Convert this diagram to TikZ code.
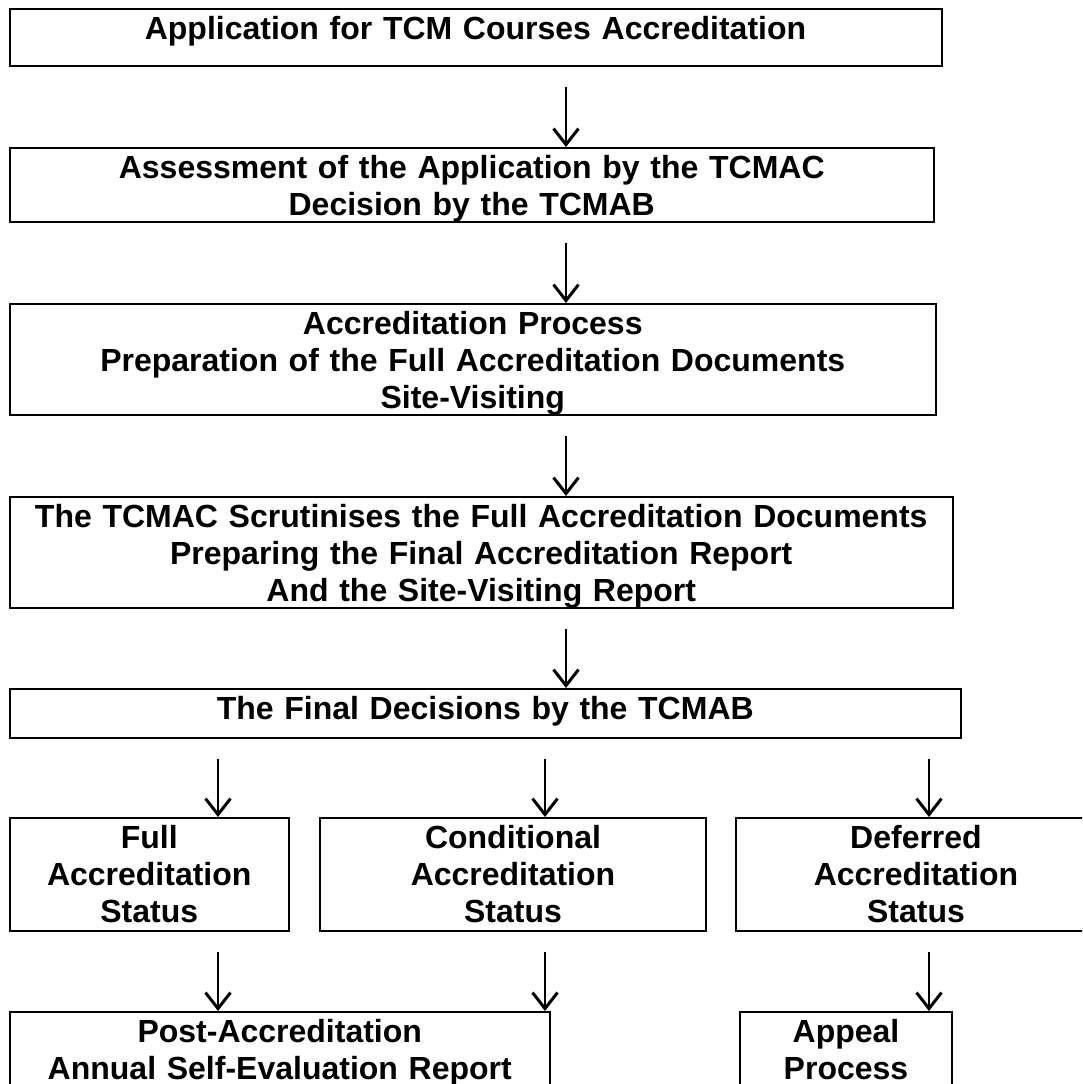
\documentclass[tikz,border=0pt]{standalone}
\usepackage{fontspec}
\setmainfont{Liberation Sans}
\usetikzlibrary{arrows.meta}

\begin{document}
\begin{tikzpicture}[x=1pt, y=-1pt, line width=2pt,
	box/.style={draw, rectangle, anchor=north west, inner sep=0pt, align=center,
		text height=30.5pt, font=\fontsize{32}{37}\selectfont\bfseries},
	arr/.style={-{Straight Barb[length=16pt,width=25pt,line width=3pt]}, line width=2.2pt, shorten <=20pt}]
	\useasboundingbox (0,0) rectangle (1082,1084);
	\clip (0,0) rectangle (1082,1084);
	%columns for the arrows
	\coordinate (main) at (566,0);
	\coordinate (colA) at (218,0);
	\coordinate (colB) at (545,0);
	\coordinate (colC) at (929,0);
	%boxes
	\node[box, text width=932pt, text depth=27pt] (apply) at (8.5,7.5)
	{Application for TCM Courses Accreditation};
	\node[box, text width=924.5pt, text depth=43.5pt] (assess) at (8.5,147)
	{Assessment of the Application by the TCMAC\\ Decision by the TCMAB};
	\node[box, text width=926.5pt, text depth=80.5pt] (process) at (8.5,303)
	{Accreditation Process\\ Preparation of the Full Accreditation Documents\\ Site-Visiting};
	\node[box, text width=943.5pt, text depth=80.5pt] (scrutiny) at (8.5,496)
	{The TCMAC Scrutinises the Full Accreditation Documents\\ Preparing the Final Accreditation Report\\ And the Site-Visiting Report};
	\node[box, text width=951.5pt, text depth=18.5pt] (final) at (8.5,688)
	{The Final Decisions by the TCMAB};
	%status
	\node[box, text width=279.5pt, text depth=82.5pt] (full) at (8.5,817)
	{Full\\ Accreditation\\ Status};
	\node[box, text width=386pt, text depth=82.5pt] (cond) at (319,817)
	{Conditional\\ Accreditation\\ Status};
	\node[box, text width=360pt, text depth=82.5pt] (defer) at (735,817)
	{Deferred\\ Accreditation\\ Status};
	%after the decision
	\node[box, text width=540.5pt, text depth=80.5pt] (post) at (8.5,1011)
	{Post-Accreditation\\ Annual Self-Evaluation Report};
	\node[box, text width=212pt, text depth=80.5pt] (appeal) at (739,1011)
	{Appeal\\ Process};
	%arrows
	\foreach \from/\to/\col in {apply/assess/main, assess/process/main,
		process/scrutiny/main, scrutiny/final/main,
		final/full/colA, final/cond/colB, final/defer/colC,
		full/post/colA, cond/post/colB, defer/appeal/colC}
	\draw[arr] (\from.south -| \col) -- (\to.north -| \col);
\end{tikzpicture}
\end{document}
